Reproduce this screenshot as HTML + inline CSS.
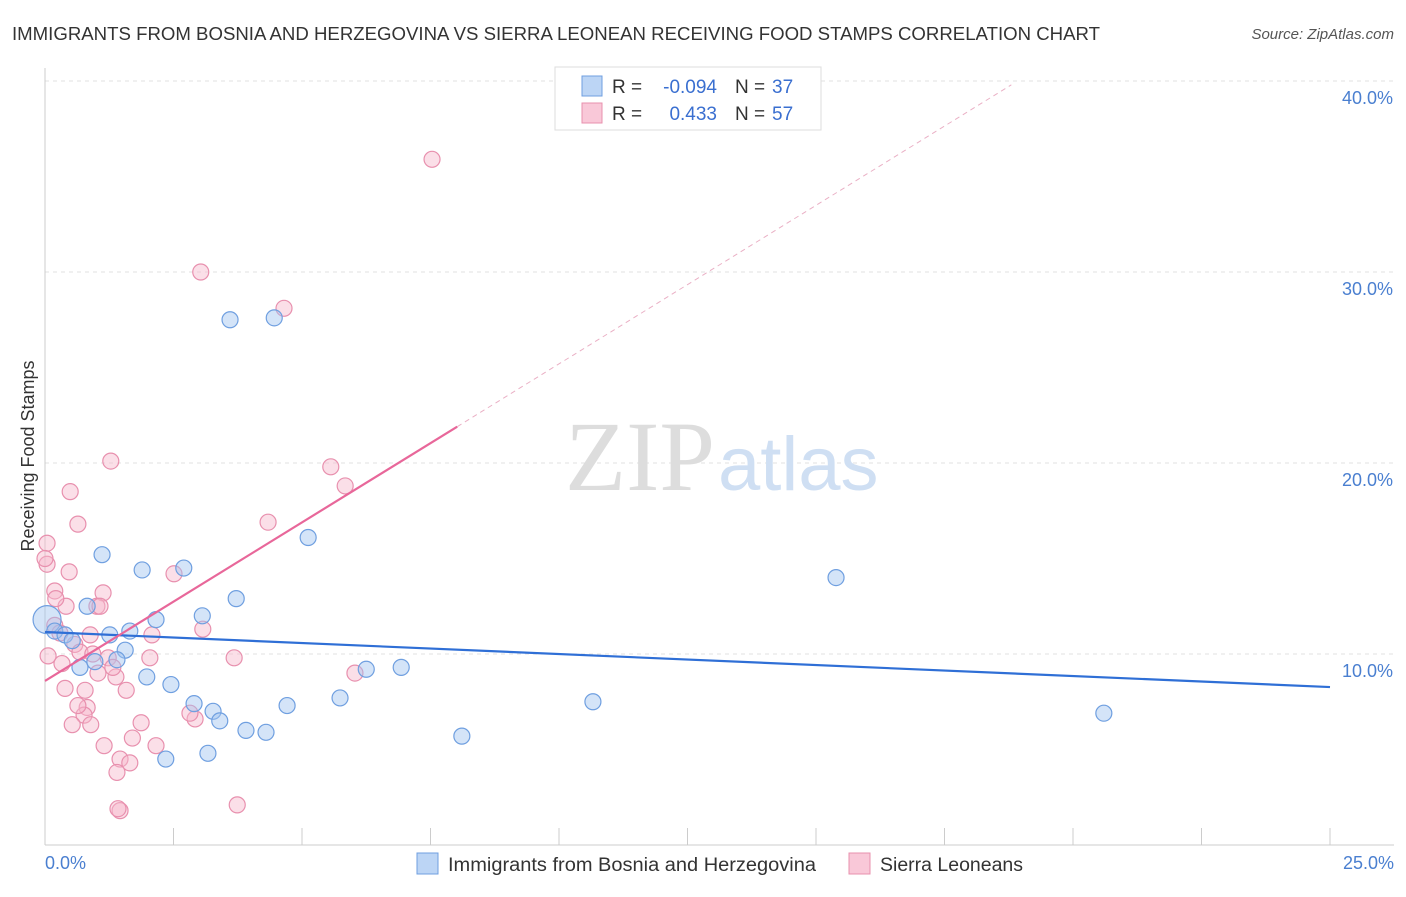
<!DOCTYPE html>
<html><head><meta charset="utf-8"><style>
body{margin:0;background:#fff;font-family:"Liberation Sans",sans-serif;}
</style></head><body>
<svg width="1406" height="892" xmlns="http://www.w3.org/2000/svg">
<text x="12" y="40" font-size="18" fill="#333" textLength="1088" lengthAdjust="spacingAndGlyphs">IMMIGRANTS FROM BOSNIA AND HERZEGOVINA VS SIERRA LEONEAN RECEIVING FOOD STAMPS CORRELATION CHART</text>
<text x="1394" y="39" font-size="15" fill="#555" text-anchor="end" font-style="italic">Source: ZipAtlas.com</text>
<g id="grid"></g>
<line x1="45" y1="68" x2="45" y2="845" stroke="#ccc"/>
<line x1="45" y1="845" x2="1394" y2="845" stroke="#ccc"/>
<g id="ticks"></g>
<text x="715" y="490" font-size="100" fill="#ddd" text-anchor="end" font-family="Liberation Serif">ZIP</text>
<text x="718" y="490" font-size="76" fill="#cfdff3">atlas</text>
<g id="marks"></g>
<text x="34" y="456" font-size="18" fill="#333" text-anchor="middle" transform="rotate(-90 34 456)">Receiving Food Stamps</text>
<text x="45" y="869" font-size="18" fill="#4a7fd0">0.0%</text>
<text x="1394" y="869" font-size="18" fill="#4a7fd0" text-anchor="end">25.0%</text>
<g>
<rect x="555" y="67" width="266" height="63" fill="#fff" stroke="#ddd"/>
<rect x="582" y="76" width="20" height="20" fill="#bcd5f5" stroke="#6f9fe0"/>
<rect x="582" y="103" width="20" height="20" fill="#f9c8d8" stroke="#e890ae"/>
<text x="612" y="93" font-size="19" fill="#333">R =</text>
<text x="717" y="93" font-size="19" fill="#3a6fd0" text-anchor="end">-0.094</text>
<text x="735" y="93" font-size="19" fill="#333">N =</text>
<text x="772" y="93" font-size="19" fill="#3a6fd0">37</text>
<text x="612" y="120" font-size="19" fill="#333">R =</text>
<text x="717" y="120" font-size="19" fill="#3a6fd0" text-anchor="end">0.433</text>
<text x="735" y="120" font-size="19" fill="#333">N =</text>
<text x="772" y="120" font-size="19" fill="#3a6fd0">57</text>
</g>
<g>
<rect x="417" y="853" width="21" height="21" fill="#bcd5f5" stroke="#6f9fe0"/>
<text x="448" y="871" font-size="19" fill="#333" textLength="368" lengthAdjust="spacingAndGlyphs">Immigrants from Bosnia and Herzegovina</text>
<rect x="849" y="853" width="21" height="21" fill="#f9c8d8" stroke="#e890ae"/>
<text x="880" y="871" font-size="19" fill="#333" textLength="143" lengthAdjust="spacingAndGlyphs">Sierra Leoneans</text>
</g>
</svg>
<script>
const yTicks=[10,20,30,40];
const yTickLabels=["10.0%","20.0%","30.0%","40.0%"];
const xTicks=[0,2.5,5,7.5,10,12.5,15,17.5,20,22.5,25];
const blueX=[3.60,4.46,5.12,1.11,1.89,2.70,3.72,3.06,2.16,1.65,0.82,0.04,0.19,0.39,0.53,1.26,1.56,0.68,0.97,1.40,1.98,2.45,2.90,3.27,3.40,3.91,4.30,4.71,5.74,6.25,6.93,8.11,2.35,3.17,10.66,15.39,20.60];
const blueY=[27.5,27.6,16.1,15.2,14.4,14.5,12.9,12.0,11.8,11.2,12.5,11.8,11.2,11.0,10.7,11.0,10.2,9.3,9.6,9.7,8.8,8.4,7.4,7.0,6.5,6.0,5.9,7.3,7.7,9.2,9.3,5.7,4.5,4.8,7.5,14.0,6.9];
const blueR=[8,8,8,8,8,8,8,8,8,8,8,14,8,8,8,8,8,8,8,8,8,8,8,8,8,8,8,8,8,8,8,8,8,8,8,8,8];
const pinkX=[7.53,3.03,4.65,1.28,5.56,5.84,0.49,4.34,0.64,0.04,0.04,0.47,2.51,0.19,1.13,0.41,1.01,1.07,3.07,2.08,0.19,0.29,0.88,0.58,0.68,0.93,1.23,2.04,3.68,6.03,0.33,1.03,1.38,0.39,1.58,0.82,0.76,0.53,0.89,1.87,2.92,1.15,1.70,2.16,1.46,1.65,1.40,3.74,1.46,1.42,0.21,0.06,1.32,0.00,0.78,0.64,2.82];
const pinkY=[35.9,30.0,28.1,20.1,19.8,18.8,18.5,16.9,16.8,15.8,14.7,14.3,14.2,13.3,13.2,12.5,12.5,12.5,11.3,11.0,11.5,11.1,11.0,10.5,10.1,10.0,9.8,9.8,9.8,9.0,9.5,9.0,8.8,8.2,8.1,7.2,6.8,6.3,6.3,6.4,6.6,5.2,5.6,5.2,4.5,4.3,3.8,2.1,1.8,1.9,12.9,9.9,9.3,15.0,8.1,7.3,6.9];
const X=v=>45+v*51.4, Y=v=>845-v*19.1;
const NS="http://www.w3.org/2000/svg";
const mk=(t,a,p)=>{const e=document.createElementNS(NS,t);for(const k in a)e.setAttribute(k,a[k]);p.appendChild(e);return e;};
const grid=document.getElementById('grid'),ticks=document.getElementById('ticks'),marks=document.getElementById('marks');
yTicks.forEach((v,i)=>{const l=mk('line',{x1:45,x2:1394,y1:Y(v),y2:Y(v),stroke:'#e2e2e2','stroke-dasharray':'4,4'},grid);


const t=mk('text',{x:1393,y:Y(v)+23,'font-size':18,fill:'#4a7fd0','text-anchor':'end'},ticks);t.textContent=yTickLabels[i];

});
xTicks.forEach(v=>{const l=mk('line',{x1:X(v),x2:X(v),y1:828,y2:845,stroke:'#ccc'},ticks);

});
function pts(xs,ys,fill,stroke,name,rs){xs.forEach((x,i)=>{const c=mk('circle',{cx:X(x),cy:Y(ys[i]),r:rs?rs[i]:8,fill:fill,stroke:stroke,'stroke-width':1.2},marks);

});}
pts(pinkX,pinkY,'rgba(246,184,204,0.45)','#e890ae','sierra-point');
pts(blueX,blueY,'rgba(160,196,240,0.45)','#6f9fe0','bosnia-point',blueR);
const b0=11.15,b1=-0.1152,p0=8.59,p1=1.66;
let l=mk('line',{x1:X(0),y1:Y(b0),x2:X(25),y2:Y(b0+b1*25),stroke:'#2f6fd6','stroke-width':2.2},marks);


l=mk('line',{x1:X(0),y1:Y(p0),x2:X(8.02),y2:Y(p0+p1*8.02),stroke:'#e8679a','stroke-width':2.2},marks);


l=mk('line',{x1:X(8.02),y1:Y(p0+p1*8.02),x2:X(18.8),y2:Y(p0+p1*18.8),stroke:'#eab0c5','stroke-width':1,'stroke-dasharray':'5,4'},marks);


</script>
</body></html>
